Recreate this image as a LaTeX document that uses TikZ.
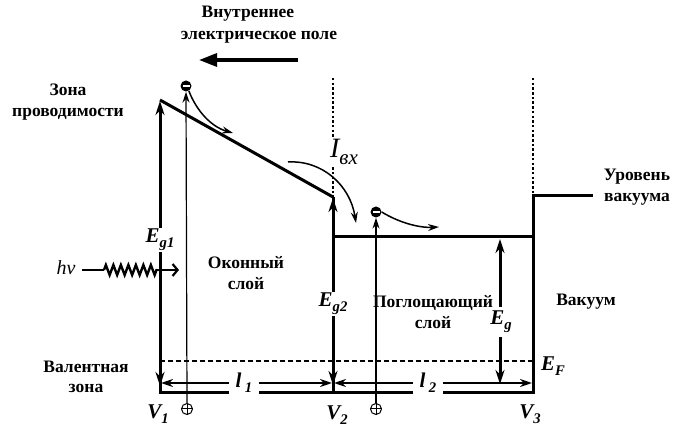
\documentclass[tikz,border=0pt]{standalone}
\usepackage{fontspec}
\setmainfont{Liberation Serif}
\usetikzlibrary{arrows.meta,decorations.pathmorphing}
\newcommand\lowsub[2][0.7]{\raisebox{-0.22em}{\scalebox{#1}{#2}}}
\begin{document}
\begin{tikzpicture}[x=1pt,y=-1pt,
  lbl/.style={font=\bfseries\fontsize{17.5}{20.5}\selectfont, align=center, inner sep=0pt},
  sym/.style={font=\bfseries\itshape\fontsize{21}{22}\selectfont, inner sep=1.5pt, fill=white},
  band/.style={line width=3pt},
  thinl/.style={line width=1.2pt},
  dotl/.style={line width=2.6pt, dash pattern=on 2.5pt off 2.2pt},
  dashl/.style={line width=2.2pt, dash pattern=on 5pt off 3pt},
  darr/.style={line width=3pt, {Stealth[length=14pt,width=9pt]}-{Stealth[length=14pt,width=9pt]}},
  harr/.style={line width=2pt, {Stealth[length=12pt,width=8pt]}-{Stealth[length=12pt,width=8pt]}},
  curv/.style={line width=1.5pt, -{Stealth[length=11pt,width=7pt]}},
  elec/.style={circle, fill=black, minimum size=11pt, inner sep=0pt},
  hole/.style={circle, draw, line width=1pt, minimum size=11pt, inner sep=0pt},
]
\useasboundingbox (0,0) rectangle (681,430);

% coordinates
\coordinate (A) at (160,100);
\coordinate (B) at (333,197);
\coordinate (B0) at (333,393);
\coordinate (C) at (333,237);
\coordinate (D) at (533,237);
\coordinate (Vac) at (533,196);
\coordinate (VacR) at (593,196);
\coordinate (VB1) at (160,393);
\coordinate (VB3) at (533,393);

% dotted boundaries
\coordinate (dt1) at (333,78);
\coordinate (dt3) at (533,78);
\draw[dotl] (dt1) -- (B);
\draw[dotl] (dt3) -- (Vac);

% bands
\draw[band, line join=miter] (A) -- (B);
\draw[band] (B) -- (B0);
\draw[band] (C) -- (D);
\draw[band] (160,380) -- (VB1) -- (VB3) -- (Vac) -- (VacR);

% Fermi level
\coordinate (F1) at (160,361);
\coordinate (F3) at (533,361);
\draw[dashl] (F1) -- (F3);

% energy gap arrows
\coordinate (g1t) at (160,101);
\coordinate (g1b) at (160,386);
\draw[darr] (g1b) -- (g1t);
\coordinate (g2t) at (333,198);
\coordinate (g2b) at (333,385);
\draw[darr] (g2b) -- (g2t);
\coordinate (g3t) at (500,239);
\coordinate (g3b) at (500,384);
\draw[darr] (g3b) -- (g3t);

% thickness arrows
\coordinate (l1a) at (161,383);
\coordinate (l1b) at (332,383);
\coordinate (l2a) at (334,383);
\coordinate (l2b) at (532,383);
\draw[harr] (l1a) -- (l1b);
\draw[harr] (l2a) -- (l2b);

% electrons and holes
\node[elec] (e1) at (186,86) {};
\draw[white, line width=1.6pt] ([xshift=-3.5pt]e1.center) -- ([xshift=3.5pt]e1.center);
\node[elec] (e2) at (376,212) {};
\draw[white, line width=1.6pt] ([xshift=-3.5pt]e2.center) -- ([xshift=3.5pt]e2.center);
\node[hole] (p1) at (187,409) {};
\draw[line width=1pt] (p1.north) -- (p1.south) (p1.west) -- (p1.east);
\node[hole] (p2) at (376,409) {};
\draw[line width=1pt] (p2.north) -- (p2.south) (p2.west) -- (p2.east);
\draw[thinl, -{Stealth[length=11pt,width=7pt]}] (p1.north) -- (e1.south);
\draw[thinl, -{Stealth[length=11pt,width=7pt]}] (p2.north) -- (e2.south);

% curved arrows
\coordinate (c1e) at (233,133);
\draw[curv] (e1.-60) .. controls (197,112) and (212,127) .. (c1e);
\coordinate (c2s) at (288,162);
\coordinate (c2e) at (356,223);
\draw[curv] (c2s) .. controls (322,160) and (350,185) .. (c2e);
\coordinate (c3e) at (439,227);
\draw[curv] (e2.east) .. controls (398,222) and (418,228) .. (c3e);

% internal field arrow
\coordinate (fa) at (298,60);
\coordinate (fb) at (199,60);
\draw[line width=3.2pt, -{Triangle[length=18pt,width=13pt]}] (fa) -- (fb);

% photon
\node[font=\itshape\fontsize{20}{22}\selectfont, inner sep=0pt] (hv) at (66,268) {hν};
\coordinate (z0) at (82,270);
\coordinate (z1) at (104,270);
\coordinate (z2) at (157,270);
\coordinate (z3) at (179,270);
\draw[line width=2.4pt] (z0) -- (z1);
\draw[line width=2.4pt, decorate, decoration={zigzag, segment length=7.5pt, amplitude=5pt}] (z1) -- (z2);
\draw[line width=2.2pt, -{Straight Barb[length=5pt,width=12pt]}] (z2) -- (z3);

% labels
\node[sym] at (160,240) {E\lowsub{g1}};
\node[sym] at (333,304) {E\lowsub{g2}};
\node[sym, inner xsep=0.5pt, inner ysep=4pt] at (501,322) {E\lowsub{g}};
\node[sym, fill=none] at (553,366) {E\lowsub{F}};
\node[sym, fill=none] at (158,414) {V\lowsub{1}};
\node[sym, fill=none] at (337,415) {V\lowsub{2}};
\node[sym, fill=none] at (530,414) {V\lowsub{3}};
\node[sym, inner xsep=7pt] at (244,383) {l\,\lowsub{1}};
\node[sym, inner xsep=7pt] at (428,383) {l\,\lowsub{2}};
\node[font=\itshape\fontsize{28}{28}\selectfont, fill=white, inner sep=1pt] at (344,152) {I\lowsub[0.75]{вх}};

\node[lbl] at (248,14) {Внутреннее};
\node[lbl] at (259,37) {электрическое поле};
\node[lbl] at (68,102) {Зона\\проводимости};
\node[lbl] at (637,187) {Уровень\\вакуума};
\node[lbl] at (246,273) {Оконный\\слой};
\node[lbl] at (433,312) {Поглощающий\\слой};
\node[lbl] at (586,302) {Вакуум};
\node[lbl] at (86,377) {Валентная\\зона};
\end{tikzpicture}
\end{document}
